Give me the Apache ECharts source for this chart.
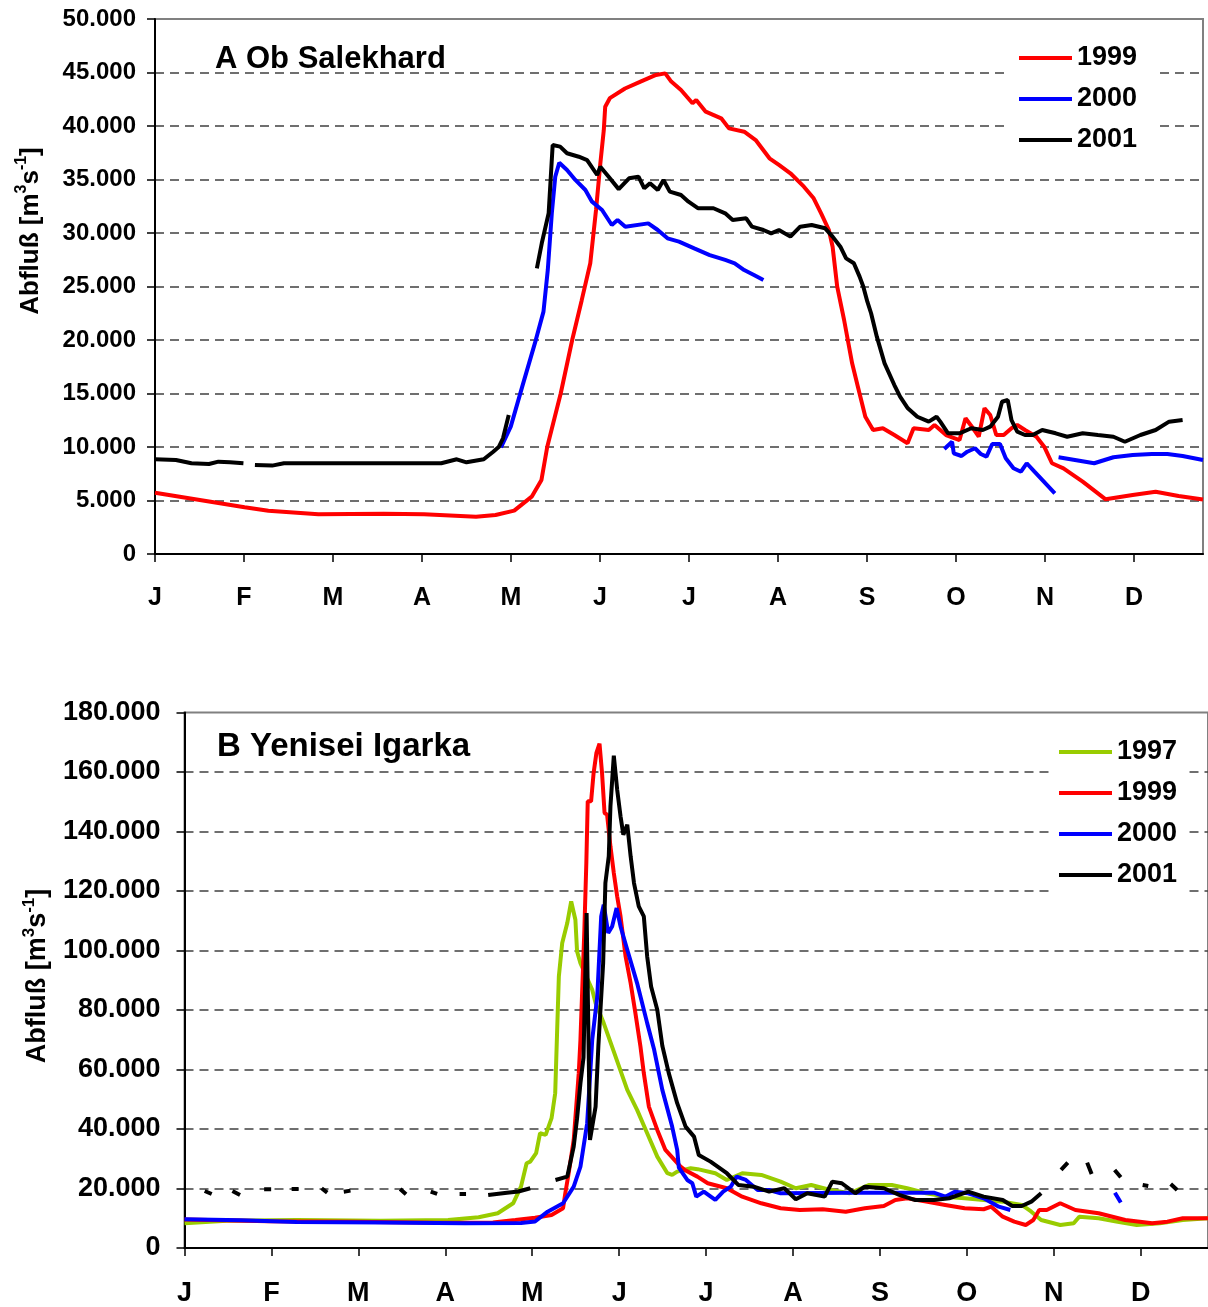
<!DOCTYPE html>
<html>
<head>
<meta charset="utf-8">
<script src="https://cdn.jsdelivr.net/npm/echarts@6/dist/echarts.min.js"></script>
<style>
html,body{margin:0;padding:0;background:#fff;}
#chart{width:1208px;height:1307px;}
</style>
</head>
<body>
<div id="chart"></div>
<script>
// ---------- DATA (x = day of year, y = discharge m3/s) ----------
const monthLetters = ['J','F','M','A','M','J','J','A','S','O','N','D'];
const monthTicks = [0,31,62,93,124,155,186,217,248,279,310,341];

// Panel A: Ob Salekhard
const ob1999 = [[0,5730],[31.2,4360],[39.5,4050],[56.9,3710],[79.7,3770],[93.7,3710],[111.8,3490],[118.6,3650],[125.1,4050],[131.2,5360],[134.6,6920],[136.6,10000],[141.3,15000],[145.3,20000],[148.6,23700],[151.6,27170],[153.6,32150],[155.1,36500],[156.3,39600],[156.8,41800],[158.4,42600],[163.7,43500],[169.1,44150],[174.5,44770],[177.7,44920],[179.8,44150],[183.2,43370],[187.2,42120],[188.5,42430],[191.8,41340],[197.2,40720],[199.9,39780],[205.2,39470],[209.2,38690],[214,36980],[217.3,36360],[221.3,35580],[226,34330],[229.4,33240],[232,31840],[234.7,30280],[236,28720],[237.6,24980],[240,21870],[242.8,17820],[244.8,15640],[247.4,12830],[250.1,11590],[253.5,11750],[257.5,11120],[262.1,10350],[264.2,11750],[269.5,11590],[271.5,12060],[275.5,11120],[280.2,10650],[282.3,12680],[284.9,11750],[286.9,10960],[288.9,13620],[290.9,12990],[293,11120],[295.6,11120],[298.3,11750],[300.3,12060],[303,11590],[307,10960],[309.7,10030],[312.4,8480],[316.4,8010],[323.1,6760],[331.1,5110],[340.5,5510],[348.5,5820],[356.5,5420],[365,5100]];
const ob2000 = [[120.5,9970],[123.9,11900],[127.9,15640],[132.6,19970],[135.3,22650],[136.8,26540],[138.2,31840],[139.4,35260],[140.8,36570],[143.5,35890],[146.4,34960],[149.9,34020],[152.2,32930],[155.7,32150],[159.1,30750],[161.1,31220],[163.8,30590],[171.8,30900],[175.1,30280],[178.5,29500],[182.5,29190],[187.8,28570],[193.2,27940],[198.6,27480],[201.9,27170],[205.2,26540],[208.6,26080],[211.9,25610],[212,null],
  [274.9,9810],[277.6,10490],[278.2,9410],[280.9,9160],[282.9,9560],[285.6,9880],[287.6,9350],[289.6,9100],[291.6,10280],[294.3,10280],[296.3,8940],[299.0,8010],[301.6,7690],[303.6,8480],[306.3,7690],[309.0,6920],[313.4,5670],[314,null],
  [314.7,9040],[320.4,8790],[327.1,8480],[333.8,9040],[340.5,9250],[347.2,9350],[352.6,9350],[357.9,9160],[365,8790]];
const ob2001 = [[0,8850],[7.3,8790],[12.7,8480],[18.8,8410],[22.1,8630],[26.1,8570],[30.8,8480],[32,null],[34.8,8320],[40.8,8260],[44.9,8480],[59.6,8480],[79.7,8480],[99.7,8480],[105.1,8850],[108.5,8570],[114.5,8850],[117.8,9560],[119.8,10030],[121.2,10810],[123.2,12990],[128,null],
  [133.0,26700],[134.7,29040],[137.1,31840],[138.5,38220],[141.1,38070],[143.5,37450],[147.6,37130],[150.5,36820],[154.0,35420],[155.1,36200],[158.0,35260],[161.5,34100],[165.1,35110],[168.4,35260],[170.4,34180],[172.4,34650],[175.1,34020],[177.1,34960],[179.3,33870],[183.2,33550],[185.8,32930],[189.2,32310],[194.5,32310],[198.6,31840],[201.2,31220],[205.9,31370],[207.9,30590],[211.9,30280],[214.6,29970],[217.3,30280],[221.3,29660],[224.7,30590],[228.7,30750],[233.4,30440],[236.0,29660],[238.7,28720],[240.7,27630],[243.4,27170],[245.4,25920],[246.7,24980],[248.1,23580],[249.4,22500],[251.4,20310],[254.1,17820],[257.5,15790],[259.5,14700],[262.2,13620],[265.5,12830],[269.5,12370],[272.2,12830],[273.5,12370],[276.2,11280],[280.2,11280],[284.3,11750],[288.3,11590],[290.9,11900],[293.6,12830],[295.0,14230],[297.0,14390],[298.3,12520],[300.3,11430],[303.0,11120],[305.7,11120],[309.0,11590],[313.7,11280],[317.7,10960],[323.1,11280],[328.4,11120],[333.8,10960],[337.8,10490],[343.2,11120],[348.5,11590],[353.2,12370],[357.9,12520]];

// Panel B: Yenisei Igarka
const yen1997 = [[0,8300],[15,9200],[40,9400],[70,9200],[94,9420],[104.9,10320],[111.7,11670],[117.2,15030],[120.0,20620],[122.0,28490],[123.3,29030],[125.4,31860],[126.8,38580],[128.8,38010],[130.9,43630],[132.2,52040],[132.9,73340],[133.5,91270],[134.7,102500],[136.5,109220],[137.9,116490],[139.4,110330],[140.0,99670],[141.2,95770],[145.4,86790],[146.6,82310],[149.5,75590],[153.1,66000],[157.9,53150],[161.4,46420],[165.0,38580],[168.6,30710],[172.2,25130],[173.9,24560],[175.7,25670],[180.5,26810],[183,26500],[189.3,25130],[193.4,22870],[198.9,25130],[205.7,24560],[212.6,22300],[218.0,20080],[223.5,21190],[230.3,19510],[237.2,18400],[244.0,21190],[252.2,21190],[257.7,20080],[264.5,18400],[271.3,17260],[278.2,16720],[285.0,16150],[291.8,15580],[298.6,14470],[302.0,12210],[305.5,9420],[312.3,7740],[317.1,8310],[319.1,10530],[326.0,9990],[332.8,8850],[339.6,7740],[347.8,8310],[356.0,9420],[365,9990]];
const yen1999 = [[0,9600],[30,9000],[60,8800],[90,8500],[110,8600],[118,9400],[125,10200],[130.9,11100],[135.0,13350],[135.8,18400],[137.0,25130],[138.8,36330],[140.6,58770],[141.2,69970],[142.6,106980],[143.3,129410],[143.8,150130],[145.0,150130],[145.9,159690],[146.9,166420],[148.0,169550],[148.9,159690],[149.8,146230],[150.7,145660],[151.9,135000],[153.1,126050],[154.3,118200],[155.5,111450],[157.3,98000],[159.1,89040],[160.8,78950],[162.6,67720],[163.8,58770],[165.6,47540],[168.6,39700],[171.5,32970],[176.9,27350],[178.4,26240],[182.9,23990],[186.6,21770],[193.4,20080],[198.9,17260],[205.7,15030],[212.6,13350],[219.4,12780],[227.6,13020],[235.8,12210],[242.6,13350],[249.4,14130],[253.5,16150],[257.7,16720],[264.5,15580],[271.3,14470],[278.2,13350],[285.0,13020],[287.7,13890],[291.8,10530],[295.9,8850],[300.0,7740],[302.7,9420],[304.8,12780],[307.5,12780],[312.3,15030],[317.7,12780],[326.0,11670],[335.5,9420],[345.1,8310],[350.5,8850],[356.0,9990],[365,9990]];
const yen2000 = [[0,9650],[20,9300],[40,8700],[70,8600],[100,8300],[120,8400],[125,8900],[129.5,12210],[135.0,15030],[138.8,20620],[141.2,27350],[143.6,41950],[145.4,69970],[147.2,84540],[148.6,111450],[149.5,115390],[151.1,105870],[152.5,108090],[154.1,114270],[155.5,108090],[157.9,100250],[161.4,89040],[165.0,75590],[167.4,67000],[170.4,53150],[173.9,40810],[175.7,32970],[176.3,27000],[179.3,22870],[181.1,21770],[182.5,17260],[185.2,18940],[189.3,16150],[192.1,18940],[194.8,20620],[196.9,23990],[200.2,22870],[204.4,19510],[208.5,19510],[212.6,18400],[237.6,18600],[267.2,18600],[271.3,17260],[274.7,18940],[279.5,18400],[285.0,16720],[290.4,13890],[294.5,12780],[300,null],[331.8,18600],[333.9,15300]];
const yen2001 = [[7.2,19170],[9.7,18160],[10,null],[17.1,19170],[19.8,17830],[20,null],[28.4,19730],[30.9,19730],[31,null],[38.2,19850],[40.7,19850],[41,null],[48.9,20080],[50.9,18600],[51,null],[56.8,18940],[59.2,19280],[60,null],[76.9,19850],[79.0,18060],[80,null],[87.8,18940],[90.1,18170],[91,null],[98.1,18170],[100.4,18170],[101,null],[108.3,17830],[115.0,18600],[119.1,19000],[123.3,20080],[124,null],
  [132.3,22870],[136.5,23990],[138.8,34080],[140.0,43630],[141.2,55400],[142.3,64000],[143.4,112560],[144.6,36330],[146.6,47540],[147.6,68000],[149.3,95770],[150.1,122680],[151.3,131640],[151.9,148460],[153.1,165510],[154.3,154070],[155.5,145100],[156.5,138940],[157.9,142300],[159.1,131640],[160.3,122680],[162.0,114810],[163.8,111450],[165.0,98000],[166.4,87920],[168.6,80060],[170.4,68000],[172.7,58770],[175.7,48680],[178.7,40810],[181.7,37440],[183.4,31290],[187.6,29030],[193.4,25130],[197.5,21190],[203.0,20620],[208.5,18940],[213.9,20080],[218.0,16380],[222.1,18400],[228.3,17260],[231.0,22300],[234.4,21770],[239.2,18400],[242.6,20620],[249.4,20080],[254.9,17830],[260.4,16150],[267.2,16150],[272.7,16720],[279.5,18940],[285.0,17260],[291.8,16150],[295.2,14130],[298.6,14130],[302.0,15580],[305.5,18400],[306,null],
  [312.6,26240],[315.0,28700],[316,null],[321.9,28700],[323.5,24890],[324,null],[331.7,26240],[333.9,23780],[334,null],[341.7,21190],[343.7,20860],[344,null],[351.7,21530],[354.0,19510]];

// ---------- CHART ----------
const FONT = "'Liberation Sans', Arial, Helvetica, sans-serif";
const colors = {'1997':'#99CC00','1999':'#FF0000','2000':'#0000FF','2001':'#000000'};

function yFmt(v){ return v === 0 ? '0' : (v/1000) + '.000'; }
function xFmt(v){ const i = Math.round(v/31); return (i>=0 && i<12 && Math.abs(v - i*31) < 0.01) ? monthLetters[i] : ''; }

function xAxisCfg(gi, fs, margin){
  return {
    gridIndex: gi, type: 'value', min: 0, max: 365, interval: 31,
    axisLine: {show: true, onZero: false, lineStyle: {color: '#000', width: 2}},
    axisTick: {show: true, inside: false, length: 8, customValues: monthTicks, lineStyle: {color: '#000', width: 1.5}},
    axisLabel: {show: true, customValues: monthTicks, formatter: xFmt, fontSize: fs, fontWeight: 'bold', color: '#000', fontFamily: FONT, margin: margin},
    splitLine: {show: false}
  };
}
function yAxisCfg(gi, max, step, fs, margin){
  return {
    gridIndex: gi, type: 'value', min: 0, max: max, interval: step,
    axisLine: {show: true, lineStyle: {color: '#000', width: 2}},
    axisTick: {show: true, inside: false, length: 8, lineStyle: {color: '#000', width: 1.5}},
    axisLabel: {formatter: yFmt, fontSize: fs, fontWeight: 'bold', color: '#000', fontFamily: FONT, margin: margin},
    splitLine: {show: true, showMinLine: false, showMaxLine: false, lineStyle: {type: [9,6], color: '#404040', width: 1.5}}
  };
}
function lineSeries(name, data, gi){
  return {
    name: name, type: 'line', xAxisIndex: gi, yAxisIndex: gi, data: data,
    showSymbol: false, symbol: 'none', connectNulls: false, smooth: false,
    color: colors[name], itemStyle: {color: colors[name]},
    lineStyle: {color: colors[name], width: 4}, animation: false
  };
}
function titleRich(fs){
  return {
    a: {fontSize: fs, fontWeight: 'bold', fontFamily: FONT, fill: '#000', color: '#000', lineHeight: fs + 8},
    s: {fontSize: Math.round(fs*0.62), fontWeight: 'bold', fontFamily: FONT, fill: '#000', color: '#000', verticalAlign: 'top'}
  };
}
const legendText = {fontSize: 27, fontWeight: 'bold', color: '#000', fontFamily: FONT, lineHeight: 30};

const chart = echarts.init(document.getElementById('chart'), null, {renderer: 'canvas'});
chart.setOption({
  animation: false,
  backgroundColor: '#ffffff',
  grid: [
    {left: 155, top: 19, width: 1048, height: 535, show: true, borderColor: '#808080', borderWidth: 2, containLabel: false},
    {left: 184.5, top: 712.5, width: 1028, height: 535.5, show: true, borderColor: '#808080', borderWidth: 2, containLabel: false}
  ],
  xAxis: [xAxisCfg(0, 25, 32), xAxisCfg(1, 27, 32)],
  yAxis: [yAxisCfg(0, 50000, 5000, 24, 19), yAxisCfg(1, 180000, 20000, 27, 24)],
  legend: [
    {data: ['1999','2000','2001'], orient: 'vertical', left: 1008, top: 34, padding: [9,18,10,11],
     icon: 'rect', itemWidth: 53, itemHeight: 4, itemGap: 11, backgroundColor: '#fff',
     selectedMode: false, textStyle: legendText},
    {data: ['1997','1999','2000','2001'], orient: 'vertical', left: 1053, top: 728, padding: [9,12,10,6],
     icon: 'rect', itemWidth: 53, itemHeight: 4, itemGap: 11, backgroundColor: '#fff',
     selectedMode: false, textStyle: legendText}
  ],
  graphic: [
    {type: 'text', x: 215, y: 59, style: {text: 'A Ob Salekhard', fontSize: 31, fontWeight: 'bold', fontFamily: FONT, fill: '#000', align: 'left', verticalAlign: 'middle', textAlign: 'left', textVerticalAlign: 'middle'}},
    {type: 'text', x: 217, y: 747, style: {text: 'B Yenisei Igarka', fontSize: 33, fontWeight: 'bold', fontFamily: FONT, fill: '#000', align: 'left', verticalAlign: 'middle', textAlign: 'left', textVerticalAlign: 'middle'}},
    {type: 'text', x: 31, y: 231, rotation: Math.PI/2, style: {text: '{a|Abfluß [m}{s|3}{a|s}{s|-1}{a|]}', rich: titleRich(26), align: 'center', verticalAlign: 'middle', textAlign: 'center', textVerticalAlign: 'middle'}},
    {type: 'text', x: 38, y: 976, rotation: Math.PI/2, style: {text: '{a|Abfluß [m}{s|3}{a|s}{s|-1}{a|]}', rich: titleRich(27), align: 'center', verticalAlign: 'middle', textAlign: 'center', textVerticalAlign: 'middle'}}
  ],
  series: [
    lineSeries('1999', ob1999, 0),
    lineSeries('2000', ob2000, 0),
    lineSeries('2001', ob2001, 0),
    lineSeries('1997', yen1997, 1),
    lineSeries('1999', yen1999, 1),
    lineSeries('2000', yen2000, 1),
    lineSeries('2001', yen2001, 1)
  ]
});
</script>
</body>
</html>
